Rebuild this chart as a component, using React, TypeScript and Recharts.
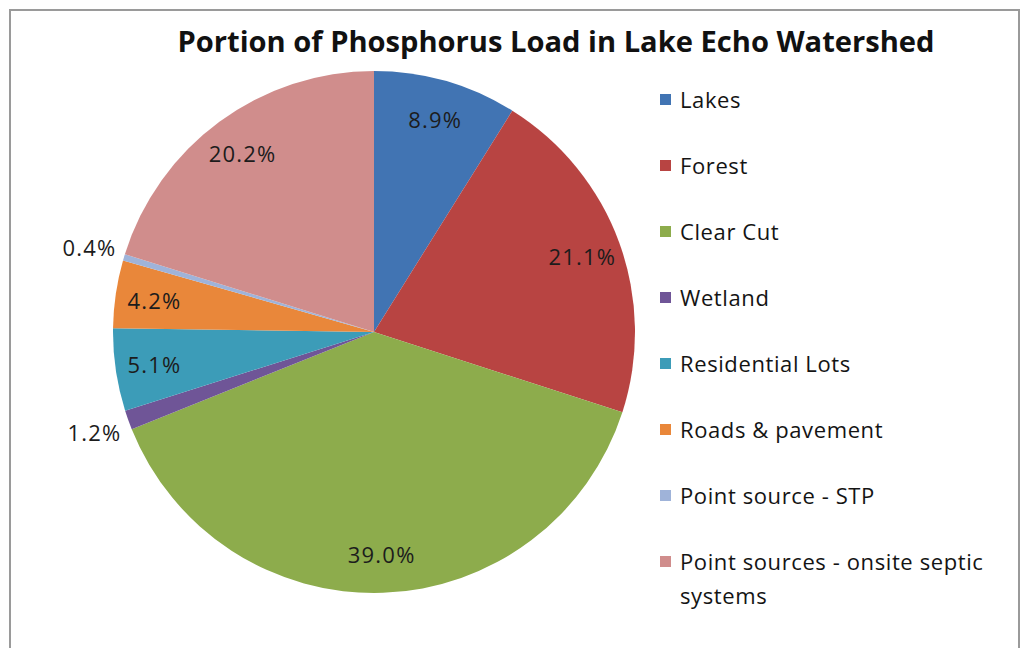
import { PieChart, Pie, Cell } from 'recharts';

const categories = [
  'Lakes',
  'Forest',
  'Clear Cut',
  'Wetland',
  'Residential Lots',
  'Roads & pavement',
  'Point source - STP',
  'Point sources - onsite septic systems',
];
const shares = [8.9, 21.1, 39.0, 1.2, 5.1, 4.2, 0.4, 20.2];
const colors = ['#4174b3', '#b84442', '#8dac4c', '#6f5597', '#3c9cb8', '#e9873a', '#9fb3d9', '#d08d8c'];

const data = categories.map((name, i) => ({ name, value: shares[i] }));

const RADIAN = Math.PI / 180;
const FONT = '"Open Sans", "Noto Sans", sans-serif';

const renderLabel = (p: any) => {
  const { cx, cy, midAngle, outerRadius, value } = p;
  const r = value < 2 ? outerRadius + 36 : outerRadius * 0.85;
  const x = cx + r * Math.cos(-midAngle * RADIAN);
  const y = cy + r * Math.sin(-midAngle * RADIAN);
  return (
    <text
      x={x}
      y={y}
      textAnchor="middle"
      dominantBaseline="central"
      fill="#1c1c1c"
      fontSize={22}
      letterSpacing={1.2}
      fontFamily={FONT}
    >
      {value.toFixed(1)}%
    </text>
  );
};

const LegendBox = () => (
  <div style={{ fontFamily: FONT, fontSize: 22, letterSpacing: 0.6, color: '#141414', width: 350 }}>
    {categories.map((c, i) => (
      <div key={c} style={{ display: 'flex', alignItems: 'flex-start', height: 66, lineHeight: '34px' }}>
        <span style={{ width: 11, height: 11, background: colors[i], marginTop: 12, marginRight: 9, flex: 'none' }} />
        <span>{c}</span>
      </div>
    ))}
  </div>
);

export default function App() {
  return (
    <div style={{ position: 'relative', width: 1013, height: 640, background: '#fff' }}>
      <div
        style={{
          position: 'absolute',
          left: 1,
          top: 1,
          width: 1011,
          height: 639,
          border: '2px solid #9a9a9a',
          borderBottom: 'none',
          boxSizing: 'border-box',
        }}
      />
      <svg style={{ position: 'absolute', left: 0, top: 0 }} width={1013} height={70}>
        <text
          x={548}
          y={44}
          textAnchor="middle"
          fontFamily={FONT}
          fontWeight="bold"
          fontSize={29}
          fill="#111"
          textLength={757}
          lengthAdjust="spacingAndGlyphs"
        >
          Portion of Phosphorus Load in Lake Echo Watershed
        </text>
      </svg>
      <div style={{ position: 'absolute', left: 0, top: 0 }}>
        <PieChart width={1013} height={640} margin={{ top: 0, right: 0, bottom: 0, left: 0 }}>
          <Pie
            data={data}
            dataKey="value"
            nameKey="name"
            cx={366}
            cy={324}
            outerRadius={261}
            startAngle={90}
            endAngle={-270}
            stroke="none"
            label={renderLabel}
            labelLine={false}
            isAnimationActive={false}
          >
            {data.map((d, i) => (
              <Cell key={d.name} fill={colors[i]} />
            ))}
          </Pie>
        </PieChart>
      </div>
      <div style={{ position: 'absolute', left: 652, top: 74 }}>
        <LegendBox />
      </div>
    </div>
  );
}
